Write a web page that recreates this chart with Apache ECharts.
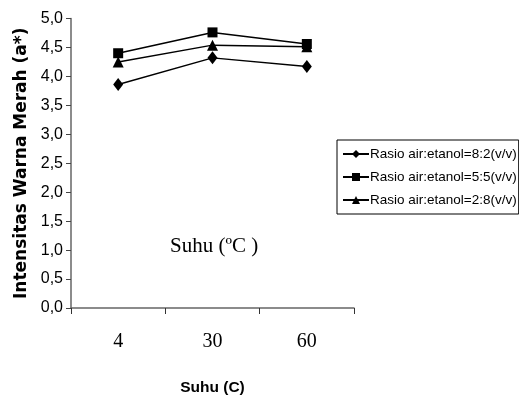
<!DOCTYPE html>
<html>
<head>
<meta charset="utf-8">
<script src="https://cdn.jsdelivr.net/npm/echarts@6/dist/echarts.min.js"></script>
<style>
  html, body { margin: 0; padding: 0; background: #fff; }
  #chart { width: 519px; height: 401px; }
</style>
</head>
<body>
<div id="chart"></div>
<script>
// Suhu (C) on the x axis, a* values per solvent ratio
const categories = ['4', '30', '60'];
const seriesNames = [
  'Rasio air:etanol=8:2(v/v)',
  'Rasio air:etanol=5:5(v/v)',
  'Rasio air:etanol=2:8(v/v)'
];
const ratio82 = [3.86, 4.32, 4.17];
const ratio55 = [4.40, 4.76, 4.56];
const ratio28 = [4.25, 4.54, 4.51];
const yTicks = [0, 5, 0.5]; // min, max, interval

const SANS = '"Liberation Sans", Arial, sans-serif';
const SERIF = '"Liberation Serif", "Times New Roman", serif';

const chart = echarts.init(document.getElementById('chart'), null, { renderer: 'canvas' });

function lineSeries(name, data, symbol, size) {
  return {
    name,
    type: 'line',
    data,
    symbol,
    symbolSize: size,
    itemStyle: { color: '#000' },
    lineStyle: { color: '#000', width: 1.5 },
    emphasis: { disabled: true },
    animation: false
  };
}

chart.setOption({
  backgroundColor: '#fff',
  grid: { left: 71, right: 165, top: 18.5, bottom: 86, containLabel: false },
  legend: {
    orient: 'vertical',
    left: 337,
    top: 140,
    itemGap: 9,
    itemWidth: 26,
    itemHeight: 10,
    padding: [7, 2, 7, 5],
    borderColor: '#000',
    borderWidth: 1,
    textStyle: { fontFamily: SANS, fontSize: 13.5, color: '#000', padding: [0, 0, 0, -4] },
    data: seriesNames
  },
  xAxis: {
    type: 'category',
    data: categories,
    boundaryGap: true,
    name: 'Suhu (C)',
    nameLocation: 'middle',
    nameGap: 72,
    nameTextStyle: { fontFamily: SANS, fontSize: 15.5, fontWeight: 'bold', color: '#000' },
    axisLine: { lineStyle: { color: '#666', width: 1.5 } },
    axisTick: { show: true, length: 6, lineStyle: { color: '#333', width: 1 } },
    axisLabel: { fontFamily: SERIF, fontSize: 20, color: '#000', margin: 24 },
    splitLine: { show: false }
  },
  yAxis: {
    type: 'value',
    min: yTicks[0],
    max: yTicks[1],
    interval: yTicks[2],
    name: 'Intensitas Warna Merah (a*)',
    nameLocation: 'middle',
    nameGap: 41,
    nameRotate: 90,
    nameTextStyle: { fontFamily: '"DejaVu Sans", sans-serif', fontSize: 17, fontWeight: 'bold', color: '#000' },
    axisLine: { show: true, lineStyle: { color: '#666', width: 1.5 } },
    axisTick: { show: true, length: 5, lineStyle: { color: '#444', width: 1 } },
    axisLabel: {
      fontFamily: SANS, fontSize: 16, color: '#000', margin: 8,
      formatter: v => v.toFixed(1).replace('.', ',')
    },
    splitLine: { show: false }
  },
  graphic: [{
    type: 'text',
    left: 170,
    top: 236,
    style: { text: 'Suhu (ºC )', font: '21px ' + SERIF, fill: '#000' }
  }],
  series: [
    lineSeries(seriesNames[0], ratio82, 'diamond', [10, 13]),
    lineSeries(seriesNames[1], ratio55, 'rect', 10),
    lineSeries(seriesNames[2], ratio28, 'triangle', 11)
  ]
});
</script>
</body>
</html>
